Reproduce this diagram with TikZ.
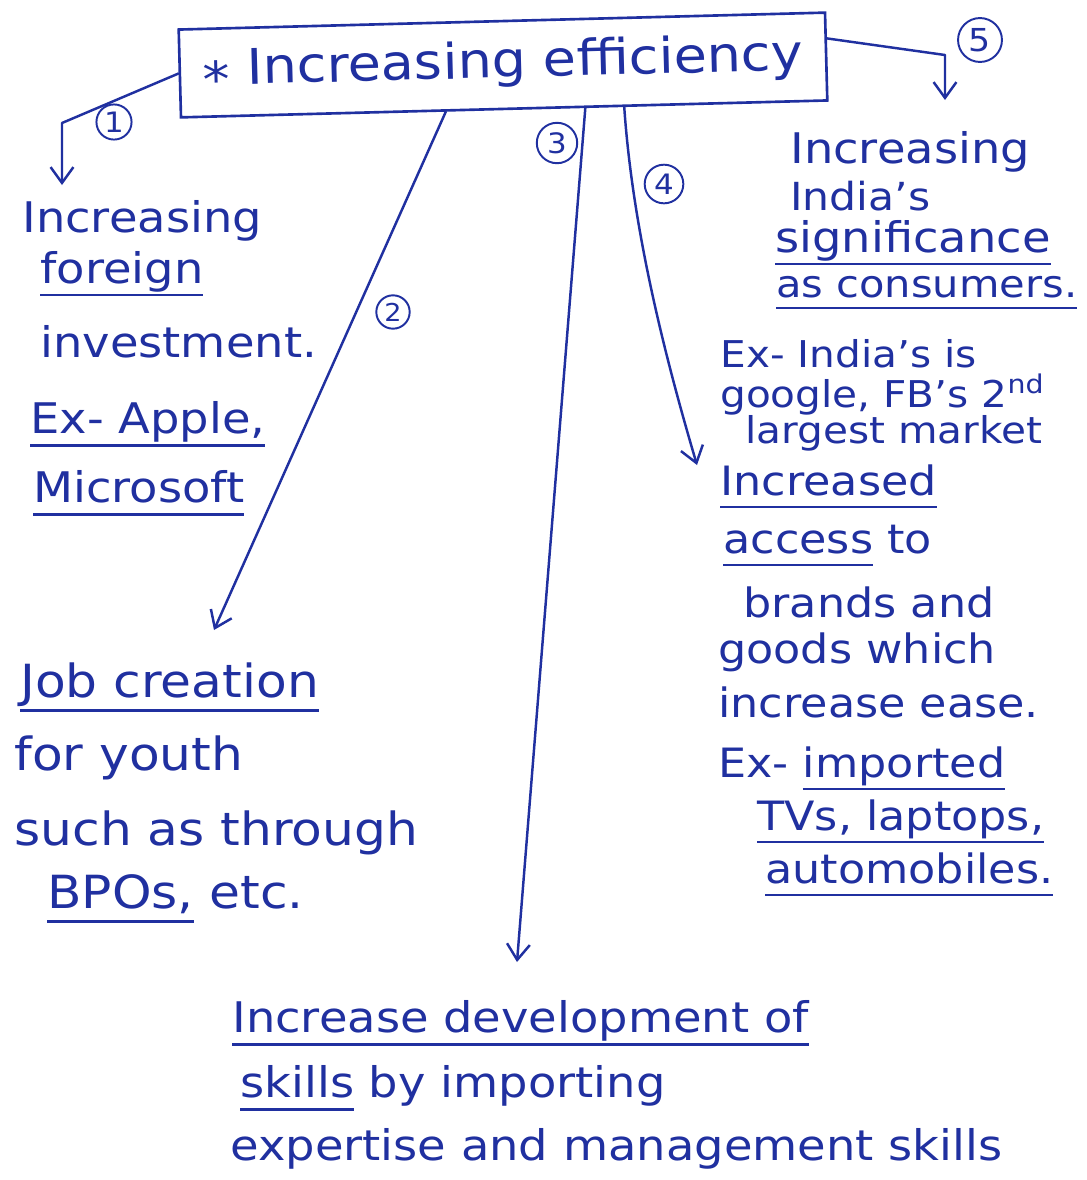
\documentclass[tikz,border=0pt]{standalone}
\usepackage{fontspec}
\setmainfont{DejaVu Sans}[FakeStretch=1.1]
\usetikzlibrary{arrows.meta,calc}
\definecolor{ink}{RGB}{32,48,160}
\newcommand\myul[1]{\setbox0=\hbox{#1}\leavevmode\rlap{\raisebox{-0.32em}{\rule{\wd0}{1.3pt}}}\box0\relax}
\begin{document}
\begin{tikzpicture}[x=0.02cm,y=-0.02cm,
  conn/.style={draw=ink, line width=1.4pt, line cap=round, line join=round, -{Straight Barb[length=9pt,width=13pt]}},
  num/.style={circle, draw=ink, line width=1.1pt, inner sep=0pt, minimum size=21pt, text=ink, font=\fontsize{16}{16}\selectfont},
  ln/.style={anchor=base west, inner sep=0pt, text=ink},
  fL/.style={font=\fontsize{24}{24}\selectfont},
  fJ/.style={font=\fontsize{26}{26}\selectfont},
  fB/.style={font=\fontsize{24}{24}\selectfont},
  fR/.style={font=\fontsize{24}{24}\selectfont},
  fE/.style={font=\fontsize{21}{21}\selectfont},
  fG/.style={font=\fontsize{23}{23}\selectfont}]
\fill[white] (0,0) rectangle (1087,1180);
\useasboundingbox (0,0) rectangle (1087,1180);

% main box
\node[draw=ink, line width=1.5pt, rotate=1.5, minimum width=368pt, minimum height=50pt, inner sep=0pt, text=ink, font=\fontsize{28}{28}\selectfont] (main) at (503,65) {\raisebox{-0.25em}{*} Increasing efficiency};

% left block
\node[ln,fL] (l1) at (22,232) {Increasing};
\node[ln,fL] (l2) at (40,283) {\myul{foreign}};
\node[ln,fL] (l3) at (40,357) {investment.};
\node[ln,fL] (l4) at (30,433) {\myul{Ex- Apple,}};
\node[ln,fL] (l5) at (33,502) {\myul{Microsoft}};

% job block
\node[ln,fJ] (j1) at (20,697) {\myul{Job creation}};
\node[ln,fJ] (j2) at (14,770) {for youth};
\node[ln,fJ] (j3) at (14,845) {such as through};
\node[ln,fJ] (j4) at (47,908) {\myul{BPOs,} etc.};

% bottom block
\node[ln,fB] (b1) at (232,1032) {\myul{Increase development of}};
\node[ln,fB] (b2) at (240,1097) {\myul{skills} by importing};
\node[ln,fB] (b3) at (230,1160) {expertise and management skills};

% right top block
\node[ln,fR] (r1) at (790,163) {Increasing};
\node[ln,font=\fontsize{22}{22}\selectfont] (r2) at (790,210) {India's};
\node[ln,fR] (r3) at (775,252) {\myul{significance}};
\node[ln,font=\fontsize{21.5}{21.5}\selectfont] (r4) at (776,297) {\myul{as consumers.}};

% example block
\node[ln,fE] (e1) at (720,367) {Ex- India's is};
\node[ln,fE] (e2) at (720,407) {google, FB's 2\textsuperscript{nd}};
\node[ln,fE] (e3) at (745,443) {largest market};

% right lower block
\node[ln,fG] (g1) at (720,495) {\myul{Increased}};
\node[ln,fG] (g2) at (723,553) {\myul{access} to};
\node[ln,fG] (g3) at (743,617) {brands and};
\node[ln,fG] (g4) at (718,663) {goods which};
\node[ln,fG] (g5) at (718,717) {increase ease.};
\node[ln,fG] (g6) at (718,777) {Ex- \myul{imported}};
\node[ln,fG] (g7) at (757,830) {\myul{TVs, laptops,}};
\node[ln,fG] (g8) at (765,883) {\myul{automobiles.}};

% connectors
\coordinate (k1) at (62,123);
\coordinate (t1) at (62,185);
\draw[conn] (main.west) -- (k1) -- (t1);
\node[num, minimum size=20pt] (c1) at (114,122) {1};

\coordinate (s2) at ($(main.south west)!0.41!(main.south east)$);
\coordinate (t2) at (214,630);
\draw[conn] (s2) -- (t2);
\node[num, minimum size=19pt, font=\fontsize{14}{14}\selectfont] (c2) at (393,312) {2};

\coordinate (s3) at ($(main.south west)!0.625!(main.south east)$);
\coordinate (t3) at (517,962);
\draw[conn] (s3) -- (t3);
\node[num, minimum size=23pt] (c3) at (557,143) {3};

\coordinate (s4) at ($(main.south west)!0.685!(main.south east)$);
\coordinate (t4) at (697,465);
\draw[conn] (s4) .. controls (632,220) and (660,340) .. (t4);
\node[num, minimum size=22pt] (c4) at (664,184) {4};

\coordinate (s5) at ($(main.north east)!0.3!(main.south east)$);
\coordinate (k5) at (945,55);
\coordinate (t5) at (945,100);
\draw[conn] (s5) -- (k5) -- (t5);
\node[num, minimum size=25pt, font=\fontsize{18}{18}\selectfont] (c5) at (980,40) {5};
\end{tikzpicture}
\end{document}
